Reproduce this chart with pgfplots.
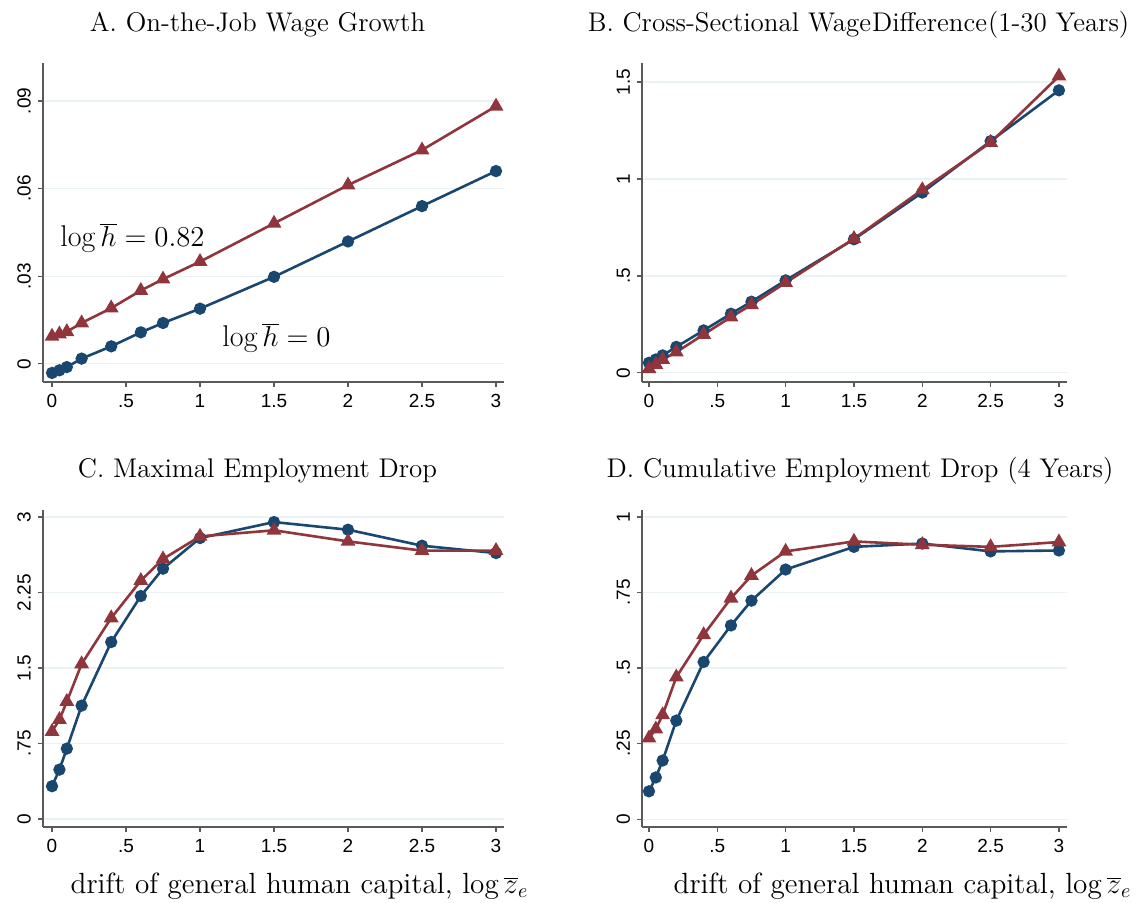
\documentclass[border=0pt]{standalone}
\usepackage{pgfplots}
\pgfplotsset{compat=1.18}
\usepackage{fontspec}
\newfontfamily\stsf{Liberation Sans}
\definecolor{stnavy}{RGB}{26,71,111}
\definecolor{stmaroon}{RGB}{144,53,59}
\definecolor{stgrid}{RGB}{234,242,243}
\definecolor{staxis}{RGB}{90,90,90}

\pgfplotsset{
  stata/.style={
    scale only axis,
    axis x line*=bottom, axis y line*=left,
    axis line style={staxis, line width=0.6pt},
    ymajorgrids, grid style={stgrid, line width=0.6pt},
    tick style={staxis, line width=0.6pt},
    tick align=outside, major tick length=2.5pt,
    xtick={0,0.5,1,1.5,2,2.5,3},
    xticklabels={0,.5,1,1.5,2,2.5,3},
    tick label style={font=\stsf\fontsize{9.5}{11}\selectfont},
    yticklabel style={rotate=90, anchor=south},
    xmin=-0.061, xmax=3.054,
    clip=false,
  },
  blueline/.style={stnavy, line width=1.3pt, mark=*, mark size=2.4pt,
    mark options={fill=stnavy, solid}},
  redline/.style={stmaroon, line width=1.3pt, mark=triangle*, mark size=3pt,
    mark options={fill=stmaroon, solid}},
}

\begin{document}
\begin{tikzpicture}
\useasboundingbox (0,0) rectangle (573pt,451.5pt);

% A. wage growth
\begin{axis}[stata, at={(21.5pt,260.5pt)}, anchor=south west,
  width=230.5pt, height=159.5pt,
  ymin=-0.0062, ymax=0.103,
  ytick={0,0.03,0.06,0.09}, yticklabels={0,.03,.06,.09}]
\addplot[blueline] coordinates {(0,-0.0031) (0.05,-0.0022) (0.1,-0.0011) (0.2,0.0018)
  (0.4,0.006) (0.6,0.0108) (0.75,0.014) (1,0.0189) (1.5,0.0298) (2,0.0419) (2.5,0.054) (3,0.066)};
\addplot[redline] coordinates {(0,0.0094) (0.05,0.0102) (0.1,0.011) (0.2,0.014)
  (0.4,0.0191) (0.6,0.0251) (0.75,0.029) (1,0.035) (1.5,0.0481) (2,0.0612) (2.5,0.0732) (3,0.0882)};
\node[font=\fontsize{15}{18}\selectfont] at (axis cs:0.544,0.0431) {$\log\overline{h}=0.82$};
\node[font=\fontsize{15}{18}\selectfont] at (axis cs:1.517,0.0089) {$\log\overline{h}=0$};
\end{axis}

% B. cross-sectional wage difference
\begin{axis}[stata, at={(321pt,260.5pt)}, anchor=south west,
  width=212.5pt, height=159.5pt,
  xmin=-0.051, xmax=3.059, ymin=-0.047, ymax=1.598,
  ytick={0,0.5,1,1.5}, yticklabels={0,.5,1,1.5}]
\addplot[blueline] coordinates {(0,0.052) (0.05,0.069) (0.1,0.09) (0.2,0.134)
  (0.4,0.219) (0.6,0.305) (0.75,0.367) (1,0.477) (1.5,0.689) (2,0.93) (2.5,1.195) (3,1.457)};
\addplot[redline] coordinates {(0,0.021) (0.05,0.043) (0.1,0.069) (0.2,0.107)
  (0.4,0.198) (0.6,0.288) (0.75,0.351) (1,0.465) (1.5,0.692) (2,0.944) (2.5,1.188) (3,1.53)};
\end{axis}

% C. maximal employment drop
\begin{axis}[stata, at={(21.5pt,38pt)}, anchor=south west,
  width=230.5pt, height=158.5pt,
  ymin=-0.08, ymax=3.07,
  ytick={0,0.75,1.5,2.25,3}, yticklabels={0,.75,1.5,2.25,3}]
\addplot[blueline] coordinates {(0,0.325) (0.05,0.49) (0.1,0.699) (0.2,1.126)
  (0.4,1.758) (0.6,2.215) (0.75,2.487) (1,2.791) (1.5,2.95) (2,2.874) (2.5,2.715) (3,2.642)};
\addplot[redline] coordinates {(0,0.868) (0.05,0.987) (0.1,1.166) (0.2,1.54)
  (0.4,1.997) (0.6,2.368) (0.75,2.583) (1,2.808) (1.5,2.868) (2,2.758) (2.5,2.666) (3,2.666)};
\end{axis}

% D. cumulative employment drop
\begin{axis}[stata, at={(321pt,38pt)}, anchor=south west,
  width=212.5pt, height=158.5pt,
  xmin=-0.051, xmax=3.059, ymin=-0.026, ymax=1.023,
  ytick={0,0.25,0.5,0.75,1}, yticklabels={0,.25,.5,.75,1}]
\addplot[blueline] coordinates {(0,0.092) (0.05,0.138) (0.1,0.194) (0.2,0.326)
  (0.4,0.52) (0.6,0.641) (0.75,0.723) (1,0.826) (1.5,0.901) (2,0.912) (2.5,0.886) (3,0.889)};
\addplot[redline] coordinates {(0,0.268) (0.05,0.298) (0.1,0.345) (0.2,0.47)
  (0.4,0.61) (0.6,0.731) (0.75,0.806) (1,0.886) (1.5,0.919) (2,0.908) (2.5,0.901) (3,0.917)};
\end{axis}

% titles and x labels
\begin{scope}[every node/.style={font=\fontsize{13.5}{16}\selectfont, inner sep=0pt}]
\node at (128.75pt,439pt) {A. On-the-Job Wage Growth};
\node at (429.25pt,439pt) {B. Cross-Sectional Wage\kern0.5pt Difference\kern0.5pt(1-30 Years)};
\node at (128.75pt,216pt) {C. Maximal Employment Drop};
\node at (430pt,216pt) {D. Cumulative Employment Drop (4 Years)};
\end{scope}
\begin{scope}[every node/.style={font=\fontsize{14.6}{17}\selectfont, inner sep=0pt}]
\node at (149.75pt,8.5pt) {drift of general human capital, $\log\overline{z}_e$};
\node at (451.25pt,8.5pt) {drift of general human capital, $\log\overline{z}_e$};
\end{scope}
\end{tikzpicture}
\end{document}
